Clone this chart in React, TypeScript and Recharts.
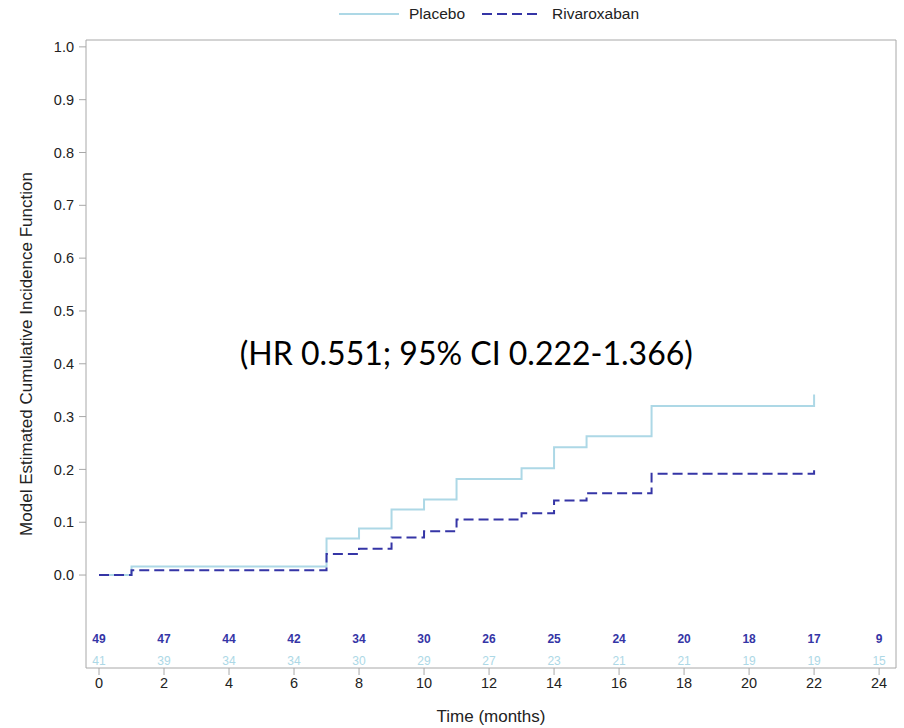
import React from 'react';
import { ComposedChart, Line, Scatter, XAxis, YAxis, ReferenceDot, ReferenceLine, Label } from 'recharts';

// event times (months) where the curves step
const stepMonths = [0, 1, 7, 8, 9, 10, 11, 13, 14, 15, 17, 22];
const placeboCif = [0, 0.016, 0.069, 0.088, 0.124, 0.143, 0.182, 0.202, 0.242, 0.263, 0.32, 0.342];
const rivaroxabanCif = [0, 0.009, 0.04, 0.05, 0.071, 0.083, 0.105, 0.117, 0.141, 0.155, 0.192, 0.208];

// numbers at risk
const riskMonths = [0, 2, 4, 6, 8, 10, 12, 14, 16, 18, 20, 22, 24];
const riskRivaroxaban = [49, 47, 44, 42, 34, 30, 26, 25, 24, 20, 18, 17, 9];
const riskPlacebo = [41, 39, 34, 34, 30, 29, 27, 23, 21, 21, 19, 19, 15];

const xTicks = [0, 2, 4, 6, 8, 10, 12, 14, 16, 18, 20, 22, 24];
const yTicks = [0, 0.1, 0.2, 0.3, 0.4, 0.5, 0.6, 0.7, 0.8, 0.9, 1.0];

const PLACEBO = '#add8e6';
const RIVA = '#3535a6';
const AXIS = '#a8a8a8';
const FONT = '"Liberation Sans", Arial, sans-serif';

const X_DOMAIN = [-0.4, 24.52];
const Y_DOMAIN = [-0.176, 1.013];

const curve = stepMonths.map((t, i) => ({ t, placebo: placeboCif[i], riva: rivaroxabanCif[i] }));

// rows of the at-risk table sit below zero, inside the frame
const ROW_RIVA = -0.122;
const ROW_PLACEBO = -0.163;
const rivaRow = riskMonths.map((t, i) => ({ t, y: ROW_RIVA, n: riskRivaroxaban[i] }));
const placeboRow = riskMonths.map((t, i) => ({ t, y: ROW_PLACEBO, n: riskPlacebo[i] }));

const riskText = (color: string, weight: number) => (props: any) => (
  <text
    x={props.cx}
    y={props.cy}
    textAnchor="middle"
    dominantBaseline="central"
    fontFamily={FONT}
    fontSize={12}
    fontWeight={weight}
    fill={color}
  >
    {props.payload.n}
  </text>
);

const LegendBox = () => (
  <div
    style={{
      position: 'absolute',
      top: 5,
      left: 339,
      display: 'flex',
      fontFamily: FONT,
      fontSize: 15.5,
      lineHeight: '18px',
      color: '#222',
      alignItems: 'center',
    }}
  >
    <svg width={60} height={10} style={{ marginRight: 10 }}>
      <line x1={0} y1={5} x2={60} y2={5} stroke={PLACEBO} strokeWidth={2} />
    </svg>
    <span style={{ marginRight: 17 }}>Placebo</span>
    <svg width={60} height={10} style={{ marginRight: 10 }}>
      <line x1={0} y1={5} x2={60} y2={5} stroke={RIVA} strokeWidth={2} strokeDasharray="10 5" />
    </svg>
    <span>Rivaroxaban</span>
  </div>
);

export default function App() {
  return (
    <div style={{ position: 'absolute', left: 0, top: 0, width: 904, height: 728, background: '#fff' }}>
      <LegendBox />
      <ComposedChart width={904} height={728} data={curve} margin={{ top: 40, right: 8, left: 0, bottom: 0 }}>
        <XAxis
          dataKey="t"
          type="number"
          domain={X_DOMAIN}
          ticks={xTicks}
          allowDataOverflow
          height={60}
          stroke={AXIS}
          tickSize={7}
          tick={{ fill: '#222', fontSize: 14.5, fontFamily: FONT }}
          tickMargin={3}
        >
          <Label value="Time (months)" position="insideBottom" offset={6} fill="#222" fontSize={17} fontFamily={FONT} />
        </XAxis>
        <YAxis
          type="number"
          domain={Y_DOMAIN}
          ticks={yTicks}
          allowDataOverflow
          width={86}
          stroke={AXIS}
          tickSize={7}
          tickMargin={5}
          tickFormatter={(v: number) => v.toFixed(1)}
          tick={{ fill: '#222', fontSize: 14.5, fontFamily: FONT }}
        >
          <Label
            value="Model Estimated Cumulative Incidence Function"
            angle={-90}
            position="center"
            dx={-17}
            fill="#222"
            fontSize={17}
            fontFamily={FONT}
          />
        </YAxis>
        {/* frame: top and right edges */}
        <ReferenceLine y={Y_DOMAIN[1]} stroke={AXIS} strokeWidth={1} />
        <ReferenceLine x={X_DOMAIN[1]} stroke={AXIS} strokeWidth={1} />
        <Line
          type="stepAfter"
          dataKey="placebo"
          stroke={PLACEBO}
          strokeWidth={2}
          dot={false}
          isAnimationActive={false}
        />
        <Line
          type="stepAfter"
          dataKey="riva"
          stroke={RIVA}
          strokeWidth={2}
          strokeDasharray="10 5"
          dot={false}
          isAnimationActive={false}
        />
        <Scatter data={rivaRow} dataKey="y" shape={riskText(RIVA, 700)} isAnimationActive={false} legendType="none" />
        <Scatter data={placeboRow} dataKey="y" shape={riskText(PLACEBO, 400)} isAnimationActive={false} legendType="none" />
        <ReferenceDot
          x={11.3}
          y={0.42}
          r={0}
          fill="none"
          stroke="none"
          label={{ value: '(HR 0.551; 95% CI 0.222-1.366)', position: 'center', fontSize: 32, fill: '#000', fontFamily: 'Lato, sans-serif' }}
        />
      </ComposedChart>
    </div>
  );
}
